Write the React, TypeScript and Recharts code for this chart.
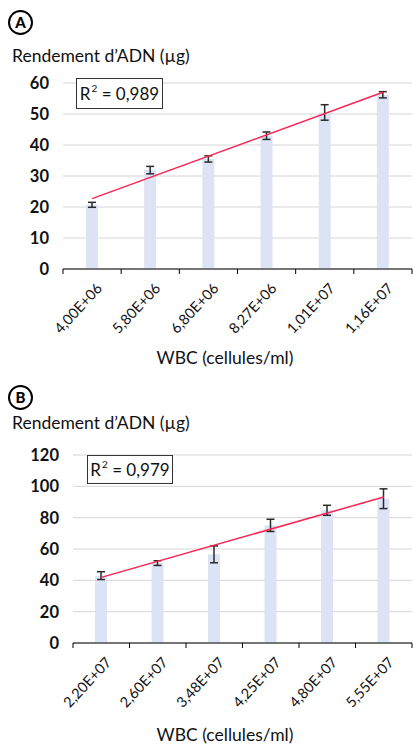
import React from 'react';
import { ComposedChart, Bar, Line, XAxis, YAxis, CartesianGrid, ErrorBar } from 'recharts';

// Panel A: DNA yield vs white blood cell count (low range)
const wbcA = ['4,00E+06', '5,80E+06', '6,80E+06', '8,27E+06', '1,01E+07', '1,16E+07'];
const yieldA = [20.7, 31.9, 35.5, 43.0, 50.5, 56.2];
const errA = [0.8, 1.2, 1.0, 1.2, 2.5, 1.0];
const trendA = [22.7, null, null, null, null, 57.0];
const ticksA = [0, 10, 20, 30, 40, 50, 60];
const r2A = '0,989';

// Panel B: DNA yield vs white blood cell count (high range)
const wbcB = ['2,20E+07', '2,60E+07', '3,48E+07', '4,25E+07', '4,80E+07', '5,55E+07'];
const yieldB = [43.0, 51.0, 56.6, 75.1, 84.7, 92.1];
const errB = [2.5, 1.5, 5.4, 3.9, 3.2, 6.3];
const trendB = [41.9, null, null, null, null, 93.2];
const ticksB = [0, 20, 40, 60, 80, 100, 120];
const r2B = '0,979';

const yTitle = 'Rendement d\u2019ADN (\u00b5g)';
const xTitle = 'WBC (cellules/ml)';

const FONT = 'Lato, "Noto Sans", sans-serif';
const BAR_COLOR = '#dbe3f4';
const TREND_COLOR = '#ff2352';
const ERR_COLOR = '#2a2a2a';
const GRID_COLOR = '#d6d6d6';

const toRows = (cats: string[], vals: number[], errs: number[], trend: (number | null)[]) =>
  cats.map((c, i) => ({ wbc: c, value: vals[i], err: errs[i], trend: trend[i] }));

const dataA = toRows(wbcA, yieldA, errA, trendA);
const dataB = toRows(wbcB, yieldB, errB, trendB);

// Category tick: label at band centre, tick marks on band boundaries
const makeTick = (count: number) => (props: any) => {
  const { x, y, payload, index } = props;
  const half = payload && payload.offset ? payload.offset : 0;
  const tx = x + 11;
  const ty = y + 20;
  return (
    <g>
      <line x1={x - half} x2={x - half} y1={y} y2={y + 5} stroke="#000" strokeWidth={1} />
      {index === count - 1 && (
        <line x1={x + half} x2={x + half} y1={y} y2={y + 5} stroke="#000" strokeWidth={1} />
      )}
      <text
        x={tx}
        y={ty}
        textAnchor="end"
        fontSize={14.5}
        fontFamily={FONT}
        fill="#111"
        transform={`rotate(-47 ${tx} ${ty})`}
      >
        {payload.value}
      </text>
    </g>
  );
};

const Circled = ({ letter, left, top }: { letter: string; left: number; top: number }) => (
  <div
    style={{
      position: 'absolute',
      left,
      top,
      width: 21,
      height: 21,
      border: '2.5px solid #000',
      borderRadius: '50%',
      display: 'flex',
      alignItems: 'center',
      justifyContent: 'center',
      fontFamily: FONT,
      fontWeight: 900,
      fontSize: 15,
      lineHeight: '15px',
      color: '#000',
    }}
  >
    {letter}
  </div>
);

const R2Box = ({ r2, left, top, width, height }: { r2: string; left: number; top: number; width: number; height: number }) => (
  <div
    style={{
      position: 'absolute',
      left,
      top,
      width,
      height,
      boxSizing: 'border-box',
      border: '1.5px solid #333',
      background: '#fff',
      display: 'flex',
      alignItems: 'center',
      justifyContent: 'center',
      fontFamily: FONT,
      fontSize: 17,
      color: '#111',
      whiteSpace: 'nowrap',
    }}
  >
    <span>R</span>
    <span style={{ fontSize: 10, position: 'relative', top: -6, marginLeft: 1 }}>2</span>
    <span>&nbsp;= {r2}</span>
  </div>
);

const Text = ({ children, left, top, width, center }: { children: React.ReactNode; left: number; top: number; width?: number; center?: boolean }) => (
  <div
    style={{
      position: 'absolute',
      left,
      top,
      width,
      textAlign: center ? 'center' : 'left',
      fontFamily: FONT,
      fontSize: 17.5,
      lineHeight: '20px',
      color: '#111',
      whiteSpace: 'nowrap',
    }}
  >
    {children}
  </div>
);

const Panel = ({
  data,
  ticks,
  max,
  yWidth,
  top,
  height,
  plotTop,
  xHeight,
}: {
  data: any[];
  ticks: number[];
  max: number;
  yWidth: number;
  top: number;
  height: number;
  plotTop: number;
  xHeight: number;
}) => (
  <div style={{ position: 'absolute', left: 0, top }}>
    <ComposedChart
      width={413}
      height={height}
      data={data}
      margin={{ top: plotTop, right: 1, bottom: 0, left: 0 }}
      barCategoryGap={0}
    >
      <CartesianGrid vertical={false} stroke={GRID_COLOR} strokeWidth={1} />
      <XAxis
        dataKey="wbc"
        height={xHeight}
        interval={0}
        tickLine={false}
        tickSize={0}
        tickMargin={0}
        axisLine={{ stroke: '#000', strokeWidth: 1 }}
        tick={makeTick(data.length)}
      />
      <YAxis
        width={yWidth}
        domain={[0, max]}
        ticks={ticks}
        interval={0}
        axisLine={false}
        tickLine={false}
        tickSize={0}
        tickMargin={14}
        tick={{ fontSize: 16.5, fontWeight: 700, fill: '#111', fontFamily: FONT }}
      />
      <Bar dataKey="value" fill={BAR_COLOR} barSize={12} isAnimationActive={false}>
        <ErrorBar dataKey="err" width={4} stroke={ERR_COLOR} strokeWidth={1.5} />
      </Bar>
      <Line
        dataKey="trend"
        connectNulls
        dot={false}
        activeDot={false}
        stroke={TREND_COLOR}
        strokeWidth={1.5}
        isAnimationActive={false}
      />
    </ComposedChart>
  </div>
);

export default function App() {
  return (
    <div style={{ position: 'absolute', left: 0, top: 0, width: 413, height: 746, background: '#fff', overflow: 'hidden' }}>
      <Panel data={dataA} ticks={ticksA} max={60} yWidth={63} top={0} height={370} plotTop={83} xHeight={101} />
      <Panel data={dataB} ticks={ticksB} max={120} yWidth={73} top={370} height={376} plotTop={85} xHeight={103} />

      <Circled letter="A" left={8} top={10} />
      <Text left={12} top={46}>{yTitle}</Text>
      <R2Box r2={r2A} left={76} top={78} width={87} height={31} />
      <Text left={152} top={348} width={146} center>{xTitle}</Text>

      <Circled letter="B" left={8} top={385} />
      <Text left={12} top={413}>{yTitle}</Text>
      <R2Box r2={r2B} left={87} top={455} width={86} height={29} />
      <Text left={152} top={725} width={146} center>{xTitle}</Text>
    </div>
  );
}
